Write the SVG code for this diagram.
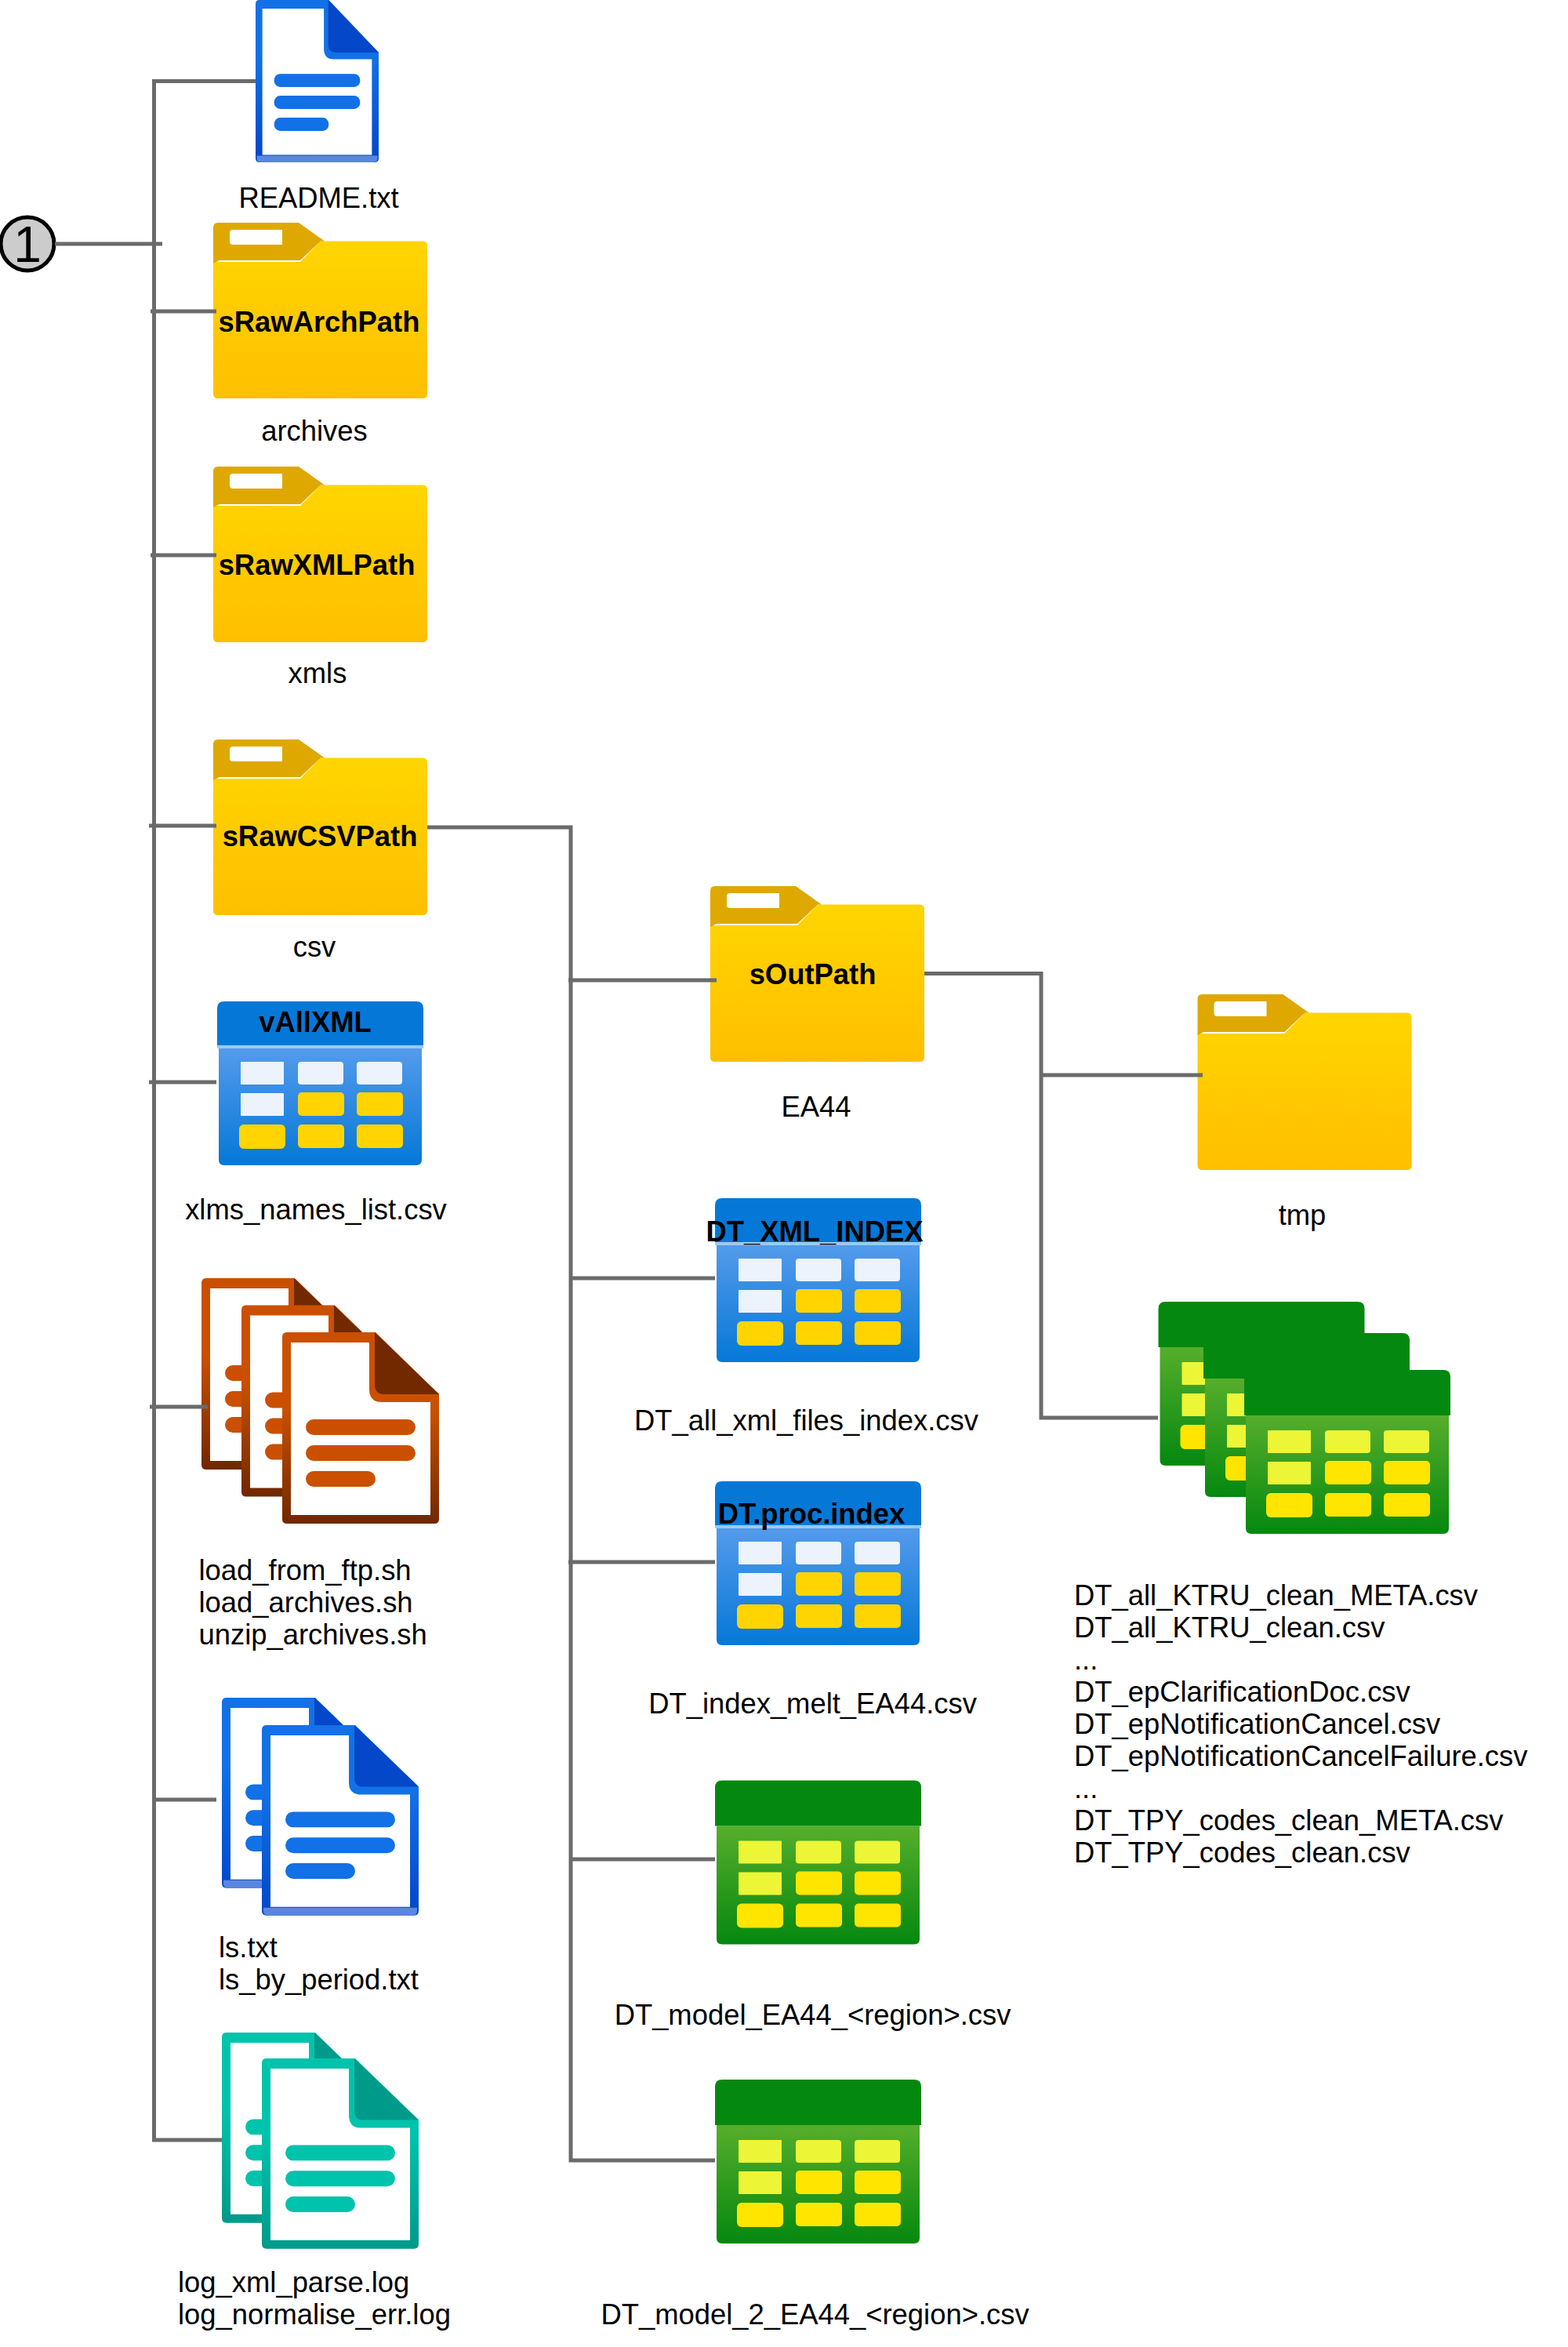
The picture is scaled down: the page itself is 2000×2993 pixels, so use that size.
<svg xmlns="http://www.w3.org/2000/svg" xmlns:xlink="http://www.w3.org/1999/xlink" width="2000" height="2993" viewBox="0 0 2000 2993">
<style>
text{font-family:"Liberation Sans",Arial,sans-serif;font-size:36.4px;fill:#000}
.m{text-anchor:middle}
.b{font-weight:bold}
#connectors path{fill:none;stroke:#6b6b6b;stroke-width:5;stroke-linejoin:miter}
</style>
<defs>
<linearGradient id="gFolder" x1="0" y1="0" x2="0" y2="1"><stop offset="0" stop-color="#ffd500"/><stop offset="1" stop-color="#ffbf00"/></linearGradient>
<linearGradient id="gBlueDoc" x1="0" y1="0" x2="0" y2="1"><stop offset="0" stop-color="#1271e6"/><stop offset=".35" stop-color="#1271e6"/><stop offset="1" stop-color="#0246c8"/></linearGradient>
<linearGradient id="gOrangeDoc" x1="0" y1="0" x2="0" y2="1"><stop offset="0" stop-color="#ca5000"/><stop offset=".4" stop-color="#ca5000"/><stop offset="1" stop-color="#702800"/></linearGradient>
<linearGradient id="gTealDoc" x1="0" y1="0" x2="0" y2="1"><stop offset="0" stop-color="#00c3ac"/><stop offset=".4" stop-color="#00c3ac"/><stop offset="1" stop-color="#00998a"/></linearGradient>
<linearGradient id="gBlueTbl" x1="0" y1="0" x2="0" y2="1"><stop offset="0" stop-color="#559bec"/><stop offset="1" stop-color="#0578d7"/></linearGradient>
<linearGradient id="gGreenTbl" x1="0" y1="0" x2="0" y2="1"><stop offset="0" stop-color="#56ae2b"/><stop offset="1" stop-color="#05880f"/></linearGradient>
<g id="folder">
<path d="M0,50 H111 L137,23.5 H267 q6,0 6,6 V218 q0,6 -6,6 H6 q-6,0 -6,-6 z" fill="url(#gFolder)"/>
<path d="M0,6 q0,-6 6,-6 H109 L142,23.5 H137 L111,48 H8 L0,52 z" fill="#dfa800"/>
<path d="M25,9 H88 V28 H25 q-4,0 -4,-4 V13 q0,-4 4,-4 z" fill="#fff"/>
</g>
<path id="docOuter" d="M6,0 H119 L200,79 V238 q0,6 -6,6 H6 q-6,0 -6,-6 V6 q0,-6 6,-6 z"/>
<path id="docFold" d="M118,0 L200,79 H130 q-12,0 -12,-12 z"/>
<path id="docLines" d="M40,111 H160 a10,10 0 0 1 0,20 H40 a10,10 0 0 1 0,-20 z M40,144 H160 a10,10 0 0 1 0,20 H40 a10,10 0 0 1 0,-20 z M40,177 H109 a10,10 0 0 1 0,20 H40 a10,10 0 0 1 0,-20 z"/>
<path id="docInner" d="M11,13 H111 V73 q0,16 16,16 H189 V233 H11 z"/>
<g id="docBlue">
<use href="#docOuter" fill="url(#gBlueDoc)"/>
<path d="M2,234 H198 V238 q0,6 -6,6 H8 q-6,0 -6,-6 z" fill="#5b86e0"/>
<use href="#docInner" fill="#fff"/>
<use href="#docFold" fill="#0447c8"/>
<use href="#docLines" fill="#1271e6"/>
</g>
<g id="docOrange">
<use href="#docOuter" fill="url(#gOrangeDoc)"/>
<use href="#docInner" fill="#fff"/>
<use href="#docFold" fill="#722900"/>
<use href="#docLines" fill="#ca5000"/>
</g>
<g id="docTeal">
<use href="#docOuter" fill="url(#gTealDoc)"/>
<use href="#docInner" fill="#fff"/>
<use href="#docFold" fill="#009a8b"/>
<use href="#docLines" fill="#00c3ac"/>
</g>
<path id="tHead" d="M0,58 V9 q0,-9 9,-9 H254 q9,0 9,9 V58 z"/>
<path id="tBody" d="M2,58 H261 V202 q0,7 -7,7 H9 q-7,0 -7,-7 z"/>
<g id="tLight">
<rect x="30" y="77" width="55" height="29" rx="1"/>
<rect x="103" y="77" width="58" height="29" rx="4"/>
<rect x="178" y="77" width="58" height="29" rx="4"/>
<rect x="30" y="117" width="55" height="29" rx="1"/>
</g>
<g id="tDark">
<rect x="103" y="116" width="59" height="30" rx="5"/>
<rect x="178" y="116" width="59" height="30" rx="5"/>
<rect x="28" y="157" width="59" height="31" rx="6"/>
<rect x="103" y="157" width="59" height="30" rx="5"/>
<rect x="178" y="157" width="59" height="30" rx="5"/>
</g>
<g id="tblBlue">
<use href="#tBody" fill="url(#gBlueTbl)"/>
<use href="#tHead" fill="#0578d7"/>
<rect x="0" y="56" width="263" height="4" fill="#9cc9f3"/>
<use href="#tLight" fill="#ecf3fc"/>
<use href="#tDark" fill="#ffd400"/>
</g>
<g id="tblGreen">
<use href="#tBody" fill="url(#gGreenTbl)"/>
<use href="#tHead" fill="#05880f"/>
<use href="#tLight" fill="#ecf636"/>
<use href="#tDark" fill="#ffe500"/>
</g>
</defs>

<g id="node-readme">
<use href="#docBlue" transform="translate(326,0) scale(.785,.848)"/>
<text class="m" x="406.500" y="265">README.txt</text>
</g>
<g id="node-archives">
<use href="#folder" x="272" y="284"/>
<text class="m b" x="407" y="423">sRawArchPath</text>
<text class="m" x="401" y="562">archives</text>
</g>
<g id="node-xmls">
<use href="#folder" x="272" y="595"/>
<text class="m b" x="404" y="733">sRawXMLPath</text>
<text class="m" x="405" y="871">xmls</text>
</g>
<g id="node-csv">
<use href="#folder" x="272" y="943"/>
<text class="m b" x="408" y="1079">sRawCSVPath</text>
<text class="m" x="401" y="1220">csv</text>
</g>
<g id="node-vallxml">
<use href="#tblBlue" x="277" y="1277"/>
<text class="m b" x="402" y="1316">vAllXML</text>
<text class="m" x="403" y="1555">xlms_names_list.csv</text>
</g>
<g id="node-load">
<use href="#docOrange" x="257" y="1630"/>
<use href="#docOrange" x="308" y="1664.5"/>
<use href="#docOrange" x="360" y="1699"/>
<text x="253.500" y="2015">load_from_ftp.sh</text>
<text x="253.500" y="2056">load_archives.sh</text>
<text x="253.500" y="2097">unzip_archives.sh</text>
</g>
<g id="node-ls">
<use href="#docBlue" transform="translate(283,2165) scale(1,.995)"/>
<use href="#docBlue" transform="translate(334,2200) scale(1,.995)"/>
<text x="279" y="2496">ls.txt</text>
<text x="279" y="2537">ls_by_period.txt</text>
</g>
<g id="node-log">
<use href="#docTeal" transform="translate(283,2592) scale(1,.995)"/>
<use href="#docTeal" transform="translate(334,2625) scale(1,.995)"/>
<text x="227" y="2923">log_xml_parse.log</text>
<text x="227" y="2964">log_normalise_err.log</text>
</g>
<g id="node-out">
<use href="#folder" x="906" y="1130"/>
<text class="m b" x="1036.500" y="1255">sOutPath</text>
<text class="m" x="1041" y="1424">EA44</text>
</g>
<g id="node-xmlindex">
<use href="#tblBlue" x="912" y="1528"/>
<text class="m b" x="1039" y="1583">DT_XML_INDEX</text>
<text class="m" x="1028.500" y="1824">DT_all_xml_files_index.csv</text>
</g>
<g id="node-procindex">
<use href="#tblBlue" x="912" y="1889"/>
<text class="m b" x="1035" y="1943">DT.proc.index</text>
<text class="m" x="1036.500" y="2185">DT_index_melt_EA44.csv</text>
</g>
<g id="node-model">
<use href="#tblGreen" x="912" y="2270.500"/>
<text class="m" x="1036.500" y="2582">DT_model_EA44_&lt;region&gt;.csv</text>
</g>
<g id="node-model2">
<use href="#tblGreen" x="912" y="2652"/>
<text class="m" x="1039.500" y="2964">DT_model_2_EA44_&lt;region&gt;.csv</text>
</g>
<g id="node-tmp">
<use href="#folder" x="1527.500" y="1268"/>
<text class="m" x="1661" y="1562">tmp</text>
</g>
<g id="node-dt">
<use href="#tblGreen" x="1477.500" y="1660"/>
<use href="#tblGreen" x="1535" y="1700"/>
<use href="#tblGreen" x="1587" y="1747"/>
<text x="1370" y="2047">DT_all_KTRU_clean_META.csv</text>
<text x="1370" y="2088">DT_all_KTRU_clean.csv</text>
<text x="1370" y="2129">...</text>
<text x="1370" y="2170">DT_epClarificationDoc.csv</text>
<text x="1370" y="2211">DT_epNotificationCancel.csv</text>
<text x="1370" y="2252">DT_epNotificationCancelFailure.csv</text>
<text x="1370" y="2293">...</text>
<text x="1370" y="2334">DT_TPY_codes_clean_META.csv</text>
<text x="1370" y="2375">DT_TPY_codes_clean.csv</text>
</g>
<g id="node-1">
<circle cx="35" cy="311" r="34" fill="#ccc" stroke="#000" stroke-width="5"/>
<text class="m" x="35" y="334" style="font-size:64px">1</text>
</g>
<g id="connectors">
<path d="M326,103.500 H196.500 V2729 H283"/>
<path d="M70,311 H207"/>
<path d="M192,397 H276"/>
<path d="M192,708 H276"/>
<path d="M190,1053 H276"/>
<path d="M190,1380 H276"/>
<path d="M191,1794 H265"/>
<path d="M197,2295 H276"/>
<path d="M545,1055 H728 V2755 H912"/>
<path d="M725,1250 H914"/>
<path d="M728,1630 H912"/>
<path d="M725,1992 H912"/>
<path d="M728,2371 H912"/>
<path d="M1179,1241.500 H1328 V1808 H1477"/>
<path d="M1328,1371 H1534"/>
</g>
</svg>
